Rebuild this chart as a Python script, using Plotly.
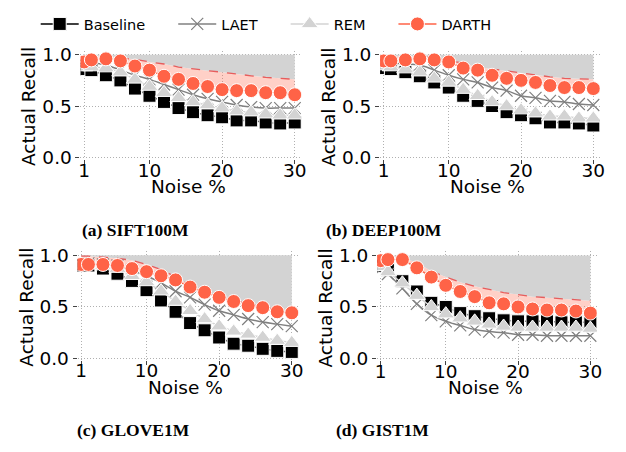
import plotly.graph_objects as go

noise = [1, 2, 4, 6, 8, 10, 12, 14, 16, 18, 20, 22, 24, 26, 28, 30]
x_ticks = [1, 10, 20, 30]
y_ticks = [0.0, 0.5, 1.0]
y_tick_labels = ["0.0", "0.5", "1.0"]
series_names = ["Baseline", "LAET", "REM", "DARTH"]
panel_titles = ["(a) SIFT100M", "(b) DEEP100M", "(c) GLOVE1M", "(d) GIST1M"]

# SIFT100M
sift_baseline = [0.86, 0.85, 0.80, 0.75, 0.67, 0.60, 0.54, 0.48, 0.44, 0.41, 0.39, 0.36, 0.36, 0.34, 0.33, 0.34]
sift_laet = [0.91, 0.92, 0.90, 0.85, 0.80, 0.76, 0.71, 0.66, 0.61, 0.57, 0.54, 0.51, 0.49, 0.48, 0.48, 0.48]
sift_rem = [0.88, 0.88, 0.87, 0.83, 0.76, 0.69, 0.63, 0.58, 0.54, 0.51, 0.48, 0.45, 0.44, 0.42, 0.41, 0.41]
sift_darth = [0.93, 0.95, 0.96, 0.94, 0.89, 0.85, 0.79, 0.76, 0.72, 0.69, 0.66, 0.65, 0.65, 0.63, 0.63, 0.61]
sift_target = [0.99, 0.99, 0.98, 0.97, 0.955, 0.93, 0.91, 0.88, 0.86, 0.845, 0.83, 0.81, 0.795, 0.78, 0.77, 0.76]

# DEEP100M
deep_baseline = [0.87, 0.86, 0.83, 0.79, 0.73, 0.68, 0.60, 0.55, 0.50, 0.44, 0.41, 0.38, 0.34, 0.34, 0.33, 0.31]
deep_laet = [0.92, 0.92, 0.91, 0.90, 0.85, 0.80, 0.76, 0.73, 0.68, 0.65, 0.60, 0.58, 0.55, 0.54, 0.52, 0.51]
deep_rem = [0.89, 0.88, 0.86, 0.83, 0.77, 0.73, 0.66, 0.60, 0.54, 0.50, 0.46, 0.43, 0.40, 0.40, 0.38, 0.38]
deep_darth = [0.94, 0.94, 0.95, 0.96, 0.95, 0.93, 0.87, 0.85, 0.80, 0.77, 0.75, 0.73, 0.70, 0.68, 0.68, 0.67]
deep_target = [0.99, 0.99, 0.985, 0.98, 0.975, 0.94, 0.92, 0.88, 0.86, 0.84, 0.82, 0.80, 0.785, 0.77, 0.765, 0.76]

# GLOVE1M
glove_baseline = [0.90, 0.90, 0.87, 0.82, 0.75, 0.66, 0.56, 0.45, 0.34, 0.27, 0.20, 0.14, 0.12, 0.09, 0.07, 0.06]
glove_laet = [0.92, 0.92, 0.91, 0.90, 0.85, 0.80, 0.73, 0.65, 0.59, 0.52, 0.46, 0.42, 0.38, 0.35, 0.33, 0.31]
glove_rem = [0.91, 0.91, 0.90, 0.87, 0.80, 0.74, 0.65, 0.55, 0.46, 0.38, 0.31, 0.26, 0.23, 0.20, 0.17, 0.15]
glove_darth = [0.91, 0.91, 0.91, 0.90, 0.87, 0.84, 0.80, 0.76, 0.69, 0.64, 0.59, 0.55, 0.51, 0.49, 0.45, 0.44]
glove_target = [0.99, 0.99, 0.98, 0.97, 0.95, 0.91, 0.86, 0.79, 0.71, 0.65, 0.60, 0.56, 0.53, 0.50, 0.47, 0.44]

# GIST1M
gist_baseline = [0.90, 0.86, 0.75, 0.65, 0.54, 0.50, 0.44, 0.41, 0.39, 0.37, 0.36, 0.36, 0.36, 0.35, 0.35, 0.35]
gist_laet = [0.87, 0.82, 0.68, 0.53, 0.42, 0.36, 0.32, 0.28, 0.26, 0.25, 0.23, 0.23, 0.22, 0.22, 0.22, 0.22]
gist_rem = [0.89, 0.84, 0.73, 0.61, 0.50, 0.43, 0.39, 0.36, 0.33, 0.31, 0.30, 0.30, 0.30, 0.30, 0.30, 0.29]
gist_darth = [0.95, 0.96, 0.96, 0.88, 0.79, 0.71, 0.65, 0.60, 0.54, 0.53, 0.50, 0.48, 0.47, 0.47, 0.46, 0.44]
gist_target = [0.99, 0.99, 0.98, 0.93, 0.85, 0.79, 0.74, 0.70, 0.67, 0.64, 0.62, 0.60, 0.59, 0.58, 0.57, 0.56]

panels = [
    (sift_baseline, sift_laet, sift_rem, sift_darth, sift_target),
    (deep_baseline, deep_laet, deep_rem, deep_darth, deep_target),
    (glove_baseline, glove_laet, glove_rem, glove_darth, glove_target),
    (gist_baseline, gist_laet, gist_rem, gist_darth, gist_target),
]
perfect = [1.0] * len(noise)

# the page body has an 8px margin, so the figure is offset by (8, 8) in the window
OFF = 8
W, H = 618, 444
def fx(px):
    return (px - OFF) / W
def fy(py):
    return 1 - (py - OFF) / H

# plot-area boxes in window pixels: (left, right, top, bottom)
boxes = [(79.3, 302.6, 43.0, 156.0), (382.3, 604.6, 43.0, 156.0),
         (76.3, 299.6, 251.4, 364.8), (379.3, 601.6, 251.7, 365.1)]

TOMATO = "#ff6347"
fig = go.Figure()
TICKFONT = dict(family="DejaVu Sans", size=18.5, color="black")
PAD = "\u00a0" * 5
legend_labels = [series_names[0] + PAD, series_names[1] + PAD, series_names[2] + PAD, series_names[3]]

for i, (bl, laet, rem, darth, target) in enumerate(panels):
    n = "" if i == 0 else str(i + 1)
    xa, ya = "x" + n, "y" + n
    show = i == 0
    # pink region between DARTH and target
    fig.add_trace(go.Scatter(x=noise, y=darth, mode="lines", line=dict(width=0),
                             showlegend=False, hoverinfo="skip", xaxis=xa, yaxis=ya))
    fig.add_trace(go.Scatter(x=noise, y=target, mode="lines", fill="tonexty",
                             fillcolor="rgba(255,99,71,0.3)", line=dict(width=0),
                             showlegend=False, hoverinfo="skip", xaxis=xa, yaxis=ya))
    # gray region between target and 1.0
    fig.add_trace(go.Scatter(x=noise, y=perfect, mode="lines", fill="tonexty",
                             fillcolor="#d3d3d3", line=dict(width=0),
                             showlegend=False, hoverinfo="skip", xaxis=xa, yaxis=ya))
    fig.add_trace(go.Scatter(x=noise, y=target, mode="lines",
                             line=dict(color="rgba(230,70,70,0.85)", width=1.3, dash="dash"),
                             showlegend=False, hoverinfo="skip", xaxis=xa, yaxis=ya))
    # series
    fig.add_trace(go.Scatter(x=noise, y=bl, mode="lines+markers", name=legend_labels[0],
                             line=dict(color="black", width=1.5),
                             marker=dict(symbol="square", size=13, color="black",
                                         line=dict(color="white", width=1)),
                             showlegend=show, xaxis=xa, yaxis=ya))
    fig.add_trace(go.Scatter(x=noise, y=laet, mode="lines+markers", name=legend_labels[1],
                             line=dict(color="gray", width=1.5, shape="spline"),
                             marker=dict(symbol="x-thin", size=12, color="gray",
                                         line=dict(color="gray", width=1.2)),
                             showlegend=show, xaxis=xa, yaxis=ya))
    fig.add_trace(go.Scatter(x=noise, y=rem, mode="lines+markers", name=legend_labels[2],
                             line=dict(color="#d3d3d3", width=1.5),
                             marker=dict(symbol="triangle-up", size=15, color="#d3d3d3",
                                         line=dict(color="white", width=1)),
                             showlegend=show, xaxis=xa, yaxis=ya))
    fig.add_trace(go.Scatter(x=noise, y=darth, mode="lines+markers", name=legend_labels[3],
                             line=dict(color=TOMATO, width=1.5),
                             marker=dict(symbol="circle", size=14, color=TOMATO,
                                         line=dict(color="white", width=1)),
                             showlegend=show, xaxis=xa, yaxis=ya))

    l, r, t, b = boxes[i]
    axis_common = dict(showgrid=True, gridcolor="#b0b0b0", griddash="1px,2px", gridwidth=1,
                       zeroline=False, showline=False, ticks="outside", ticklen=4,
                       tickcolor="#444", tickwidth=1, tickfont=TICKFONT)
    fig.layout["xaxis" + n] = dict(domain=[fx(l), fx(r)], anchor=ya, range=[0.5, 30.9],
                                   tickvals=x_ticks, ticklabelstandoff=-10, **axis_common)
    fig.layout["yaxis" + n] = dict(domain=[fy(b), fy(t)], anchor=xa, range=[-0.02, 1.04],
                                   tickvals=y_ticks, ticktext=y_tick_labels, **axis_common)

    cx = (l + r) / 2
    cy = (t + b) / 2
    fig.add_annotation(x=fx(l - 52), y=fy(cy + 2), xref="paper", yref="paper",
                       xanchor="center", yanchor="middle",
                       text="Actual Recall", textangle=-90, showarrow=False,
                       font=dict(family="DejaVu Sans", size=18.5, color="black"))
    fig.add_annotation(x=fx(cx - 2), y=fy(b + 28), xref="paper", yref="paper",
                       xanchor="center", yanchor="middle",
                       text="Noise %", showarrow=False,
                       font=dict(family="DejaVu Sans", size=18.5, color="black"))

caption_pos = [(134.5, 229), (386.7, 229), (132.5, 437), (385, 437)]
for (px, py), title in zip(caption_pos, panel_titles):
    fig.add_annotation(x=fx(px), y=fy(py), xref="paper", yref="paper",
                       xanchor="center", yanchor="middle",
                       text="<b>" + title + "</b>", showarrow=False,
                       font=dict(family="Liberation Serif", size=17.5, color="black"))

fig.update_layout(
    width=W, height=H, margin=dict(l=0, r=0, t=0, b=0),
    plot_bgcolor="white", paper_bgcolor="white",
    legend=dict(orientation="h", x=fx(34), y=fy(15), yanchor="middle", xanchor="left",
                traceorder="normal", itemwidth=38,
                font=dict(family="DejaVu Sans", size=14.5, color="black"),
                bgcolor="rgba(0,0,0,0)"),
)
fig.write_html("out.html")
